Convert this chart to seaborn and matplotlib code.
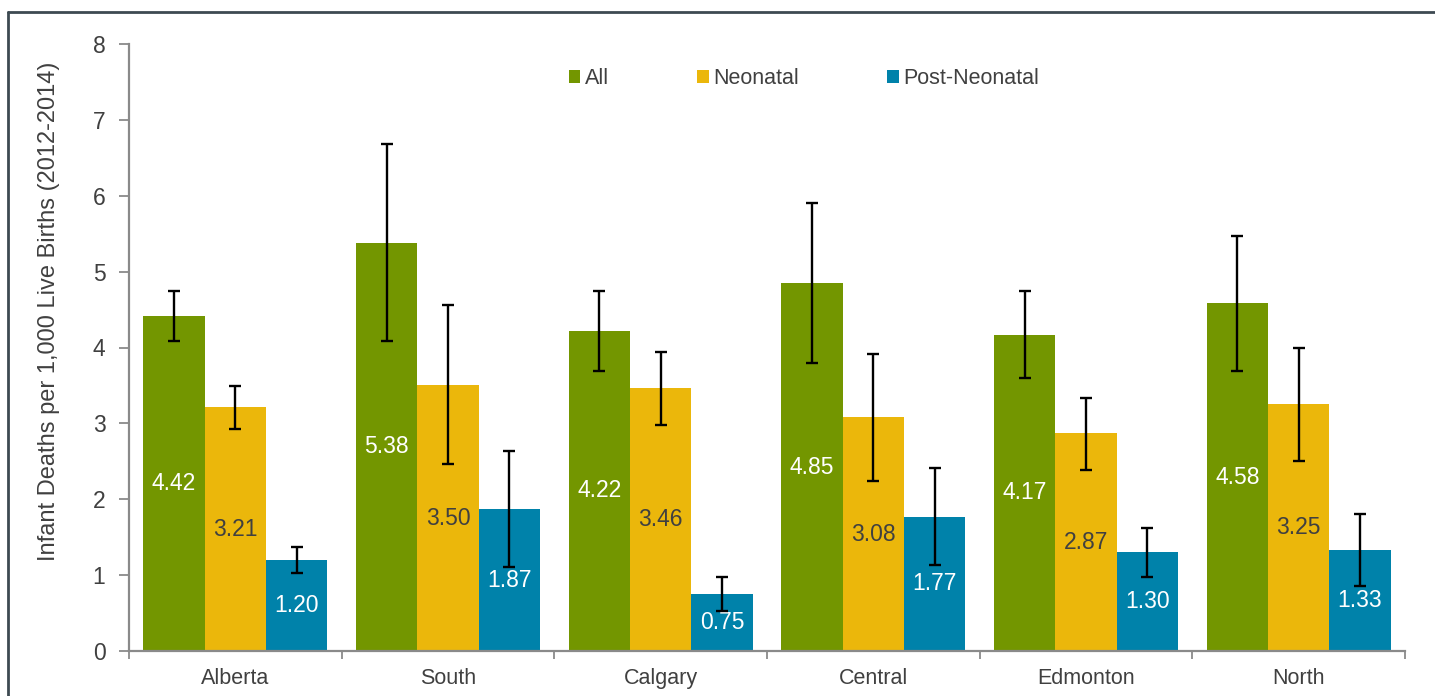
import pandas as pd
import seaborn as sns
import matplotlib
matplotlib.use('Agg')
import matplotlib.pyplot as plt
from matplotlib.lines import Line2D
from matplotlib.ticker import FixedLocator

# regions and the three series (rates per 1,000 live births)
regions = ['Alberta', 'South', 'Calgary', 'Central', 'Edmonton', 'North']
series = ['All', 'Neonatal', 'Post-Neonatal']
all_rate = [4.42, 5.38, 4.22, 4.85, 4.17, 4.58]
neo_rate = [3.21, 3.50, 3.46, 3.08, 2.87, 3.25]
post_rate = [1.20, 1.87, 0.75, 1.77, 1.30, 1.33]

# confidence interval bounds
all_low = [4.09, 4.08, 3.69, 3.80, 3.60, 3.69]
all_high = [4.74, 6.68, 4.74, 5.90, 4.74, 5.47]
neo_low = [2.93, 2.46, 2.98, 2.24, 2.39, 2.50]
neo_high = [3.49, 4.56, 3.94, 3.91, 3.33, 3.99]
post_low = [1.03, 1.11, 0.53, 1.13, 0.98, 0.86]
post_high = [1.37, 2.64, 0.97, 2.41, 1.62, 1.81]

colors = ['#739600', '#EBB70B', '#0082AA']
label_colors = ['white', '#404040', 'white']

df = pd.DataFrame({
    'Region': regions * 3,
    'Series': [s for s in series for _ in regions],
    'Rate': all_rate + neo_rate + post_rate,
})
lows = [all_low, neo_low, post_low]
highs = [all_high, neo_high, post_high]
vals = [all_rate, neo_rate, post_rate]

sns.set_style('white')
plt.rcParams['font.family'] = ['Liberation Sans', 'DejaVu Sans']

fig = plt.figure(figsize=(14.35, 6.96), dpi=100)
ax = fig.add_axes([129 / 1435, 1 - 651 / 696, 1276 / 1435, 607 / 696])

sns.barplot(data=df, x='Region', y='Rate', hue='Series', order=regions,
            hue_order=series, palette=colors, width=0.865, errorbar=None,
            linewidth=0, saturation=1, ax=ax)

# error bars and value labels on each bar
bar_conts = list(ax.containers)
for i, cont in enumerate(bar_conts):
    xs = [p.get_x() + p.get_width() / 2 for p in cont.patches]
    lo = [v - l for v, l in zip(vals[i], lows[i])]
    hi = [h - v for v, h in zip(vals[i], highs[i])]
    ax.errorbar(xs, vals[i], yerr=[lo, hi], fmt='none', ecolor='black',
                elinewidth=1.7, capsize=4.5, capthick=1.7, zorder=5)
    ax.bar_label(cont, fmt='%.2f', label_type='center', color=label_colors[i],
                 fontsize=16.5)

ax.set_ylim(0, 8)
ax.set_xlim(-0.5, 5.5)
ax.set_yticks(range(0, 9))
ax.set_xlabel('')
ax.set_ylabel('Infant Deaths per 1,000 Live Births (2012-2014)', fontsize=17,
              color='#404040')
ax.yaxis.set_label_coords(-0.054, 0.56)

for side in ['top', 'right']:
    ax.spines[side].set_visible(False)
for side in ['left', 'bottom']:
    ax.spines[side].set_color('#8a8a8a')
    ax.spines[side].set_linewidth(1.6)

ax.tick_params(axis='y', which='major', length=7, width=1.3, color='#8a8a8a',
               labelsize=16.5, labelcolor='#404040', left=True, direction='out',
               pad=10)
ax.tick_params(axis='x', which='major', length=0, labelsize=15.5,
               labelcolor='#404040', pad=12)
ax.xaxis.set_minor_locator(FixedLocator([i - 0.5 for i in range(7)]))
ax.tick_params(axis='x', which='minor', length=6, width=1.3, color='#8a8a8a',
               bottom=True, direction='out')

leg = ax.legend(loc='center', bbox_to_anchor=(0.529, 0.943), ncol=3,
                frameon=False, fontsize=15.5, handlelength=0.55, handleheight=0.55,
                handletextpad=0.2, columnspacing=4.1)
for t in leg.get_texts():
    t.set_color('#404040')

# outer frame (top and left edges visible)
fc = '#3d4a52'
fig.add_artist(Line2D([8 / 1435, 1.0], [1 - 12 / 696, 1 - 12 / 696],
                      transform=fig.transFigure, color=fc, linewidth=2))
fig.add_artist(Line2D([8 / 1435, 8 / 1435], [0.0, 1 - 12 / 696],
                      transform=fig.transFigure, color=fc, linewidth=2))

fig.savefig('out.png', dpi=100)
